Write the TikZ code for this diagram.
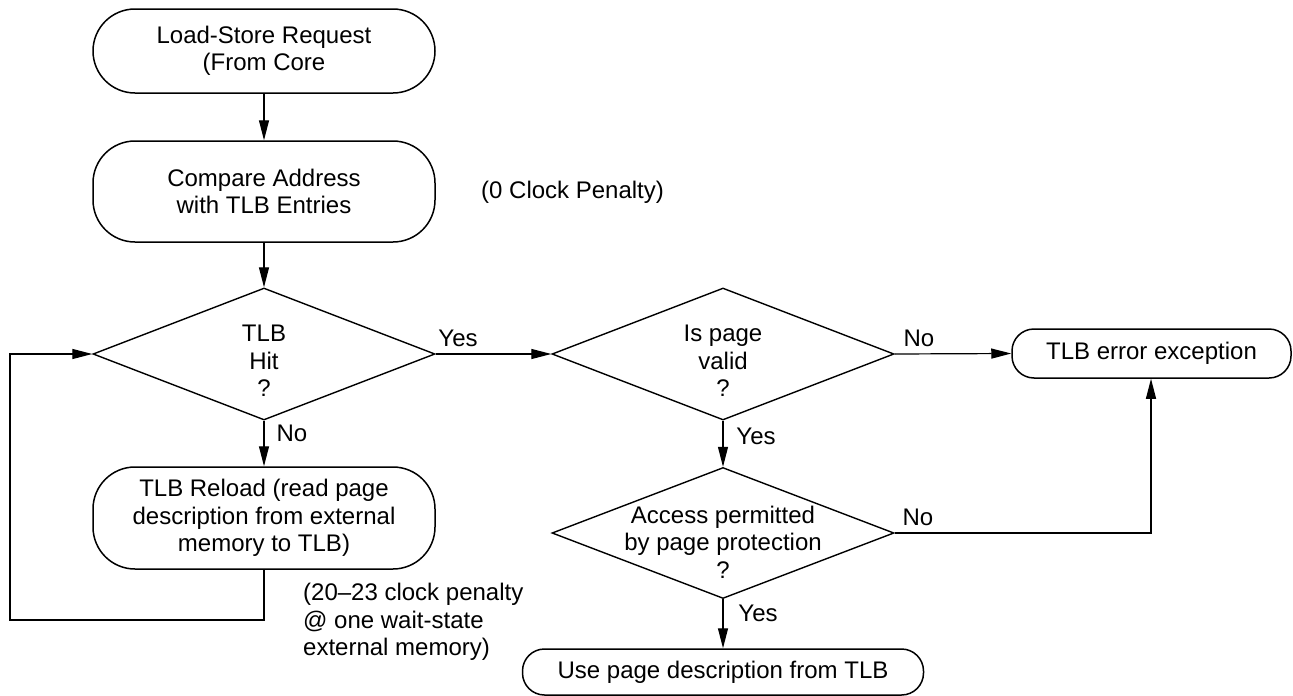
\documentclass[tikz,border=0pt]{standalone}
\usepackage{fontspec}
\setmainfont{Liberation Sans}
\usetikzlibrary{shapes.geometric,arrows.meta}
\begin{document}
\begin{tikzpicture}[x=1pt,y=-1pt,
  font=\fontsize{24}{27.5}\selectfont,
  bigbox/.style={draw,line width=1.5pt,rounded corners=42pt,minimum width=342pt,align=center,inner sep=0pt},
  smallbox/.style={draw,line width=1.5pt,rounded corners=22pt,align=center,inner sep=0pt},
  decision/.style={draw,diamond,line width=1.4pt,minimum width=342pt,inner sep=0pt},
  dtext/.style={align=center,inner sep=0pt},
  lbl/.style={inner sep=0pt},
  conn/.style={line width=1.2pt,-{Triangle[length=20pt,width=10pt]}},
  line/.style={line width=1.2pt}]
\useasboundingbox (0,0) rectangle (1293,696);
% nodes
\node[bigbox,minimum height=84pt] (req) at (264,51) {Load-Store Request\\(From Core};
\node[bigbox,minimum height=101pt] (cmp) at (264,191.5) {Compare Address\\with TLB Entries};
\node[lbl,anchor=west] (zero) at (481,192) {(0 Clock Penalty)};
\node[decision,minimum height=132pt] (hit) at (264,354) {};
\node[dtext] (hitt) at (264,361) {TLB\\Hit\\?};
\node[bigbox,minimum height=102pt] (reload) at (264,518) {TLB Reload (read page\\description from external\\memory to TLB)};
\node[lbl,anchor=west,align=left] (pen) at (303,622) {(20--23 clock penalty\\@ one wait-state\\external memory)};
\node[decision,minimum height=132pt] (valid) at (723,354) {};
\node[dtext] (validt) at (723,361) {Is page\\valid\\?};
\node[smallbox,minimum width=279pt,minimum height=49pt] (err) at (1151.5,353.5) {TLB error exception};
\node[decision,minimum height=131pt] (perm) at (723,533) {};
\node[dtext] (permt) at (723,542) {Access permitted\\by page protection\\?};
\node[smallbox,minimum width=401pt,minimum height=46pt] (use) at (723,672) {Use page description from TLB};
% labels
\node[lbl] (yes1) at (458,338) {Yes};
\node[lbl] (no1) at (292,433) {No};
\node[lbl] (no2) at (919,338) {No};
\node[lbl] (yes2) at (756,436) {Yes};
\node[lbl] (no3) at (918,517) {No};
\node[lbl] (yes3) at (758,613) {Yes};
% coordinates
\coordinate (lp1) at (264,620);
\coordinate (lp2) at (10,620);
\coordinate (lp3) at (10,354);
\coordinate (pc) at (1151,533);
% connectors
\draw[conn] (req.south) -- (cmp.north);
\draw[conn] (cmp.south) -- (hit.north);
\draw[conn] (hit.south) -- (reload.north);
\draw[conn] (reload.south) -- (lp1) -- (lp2) -- (lp3) -- (hit.west);
\draw[conn] (hit.east) -- (valid.west);
\draw[conn] (valid.east) -- (err.west);
\draw[conn] (valid.south) -- (perm.north);
\draw[conn] (perm.south) -- (use.north);
\draw[conn] (perm.east) -- (pc) -- (err.south -| pc);
\end{tikzpicture}
\end{document}
